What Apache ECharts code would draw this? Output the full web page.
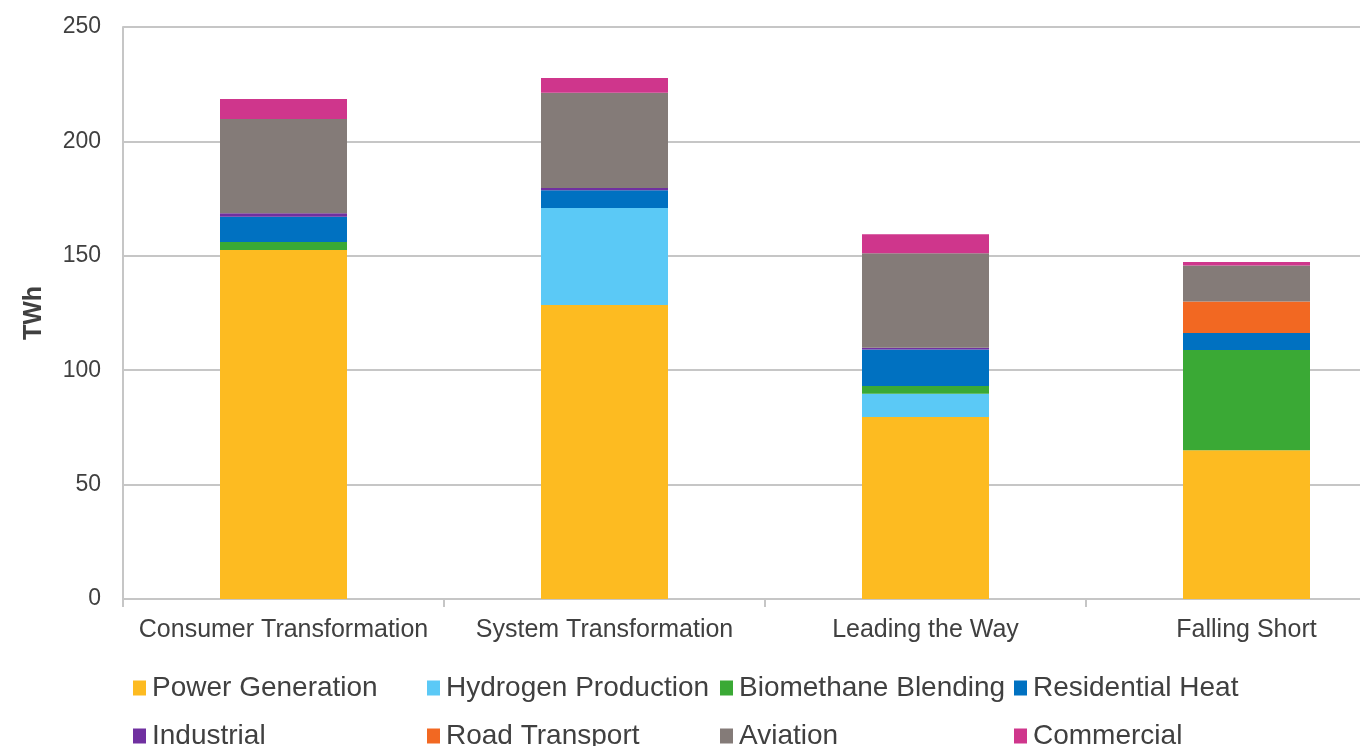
<!DOCTYPE html>
<html>
<head>
<meta charset="utf-8">
<script src="https://cdn.jsdelivr.net/npm/echarts@6/dist/echarts.min.js"></script>
<style>
html,body{margin:0;padding:0;background:#fff;overflow:hidden;width:1360px;height:746px;}
#chart{width:1407px;height:746px;}
</style>
</head>
<body>
<div id="chart"></div>
<script>
const categories = ['Consumer Transformation', 'System Transformation', 'Leading the Way', 'Falling Short'];
const seriesNames = ['Power Generation', 'Hydrogen Production', 'Biomethane Blending', 'Residential Heat', 'Industrial', 'Road Transport', 'Aviation', 'Commercial'];
const powerGeneration    = [152.5, 128.5, 79.5, 65.0];
const hydrogenProduction = [0,     42.4,  10.2, 0];
const biomethaneBlending = [3.5,   0,     3.4,  43.8];
const residentialHeat    = [11.1,  7.7,   15.9, 7.5];
const industrial         = [1.5,   1.0,   0.8,  0];
const roadTransport      = [0,     0,     0,    13.7];
const aviation           = [41.2,  41.7,  41.3, 15.8];
const commercial         = [8.7,   6.4,   8.3,  1.5];
const yTicks = [0, 50, 100, 150, 200, 250];

const values = [powerGeneration, hydrogenProduction, biomethaneBlending, residentialHeat, industrial, roadTransport, aviation, commercial];
const colors = ['#FDBB21', '#5BC9F6', '#3AA935', '#0071C1', '#7030A0', '#F26822', '#847B78', '#CF368C'];

const chart = echarts.init(document.getElementById('chart'), null, {renderer: 'canvas'});
const font = 'Liberation Sans, Arial, sans-serif';

const legendCols = [133, 427, 720, 1014];
const legendRows = [674, 722];
const legends = seriesNames.map((n, i) => ({
  data: [n],
  left: legendCols[i % 4],
  top: legendRows[Math.floor(i / 4)],
  padding: 0,
  itemWidth: 13,
  itemHeight: 15,
  itemGap: 6,
  icon: 'rect',
  selectedMode: false,
  textStyle: {fontFamily: font, fontSize: 28, color: '#404040', padding: [0, 0, 0, 1]}
}));

chart.setOption({
  animation: false,
  backgroundColor: '#ffffff',
  color: colors,
  legend: legends,
  grid: {left: 123, top: 27, bottom: 147, right: 0, containLabel: false},
  xAxis: {
    type: 'category',
    data: categories,
    axisLine: {show: true, lineStyle: {color: '#c6c6c6', width: 2}},
    axisTick: {show: true, length: 8, lineStyle: {color: '#c6c6c6', width: 2}},
    axisLabel: {interval: 0, fontFamily: font, fontSize: 25, color: '#404040', margin: 19}
  },
  yAxis: {
    type: 'value',
    min: yTicks[0],
    max: yTicks[yTicks.length - 1],
    interval: 50,
    name: 'TWh',
    nameLocation: 'middle',
    nameGap: 76,
    nameTextStyle: {fontFamily: font, fontSize: 25, fontWeight: 'bold', color: '#404040'},
    axisLine: {show: true, lineStyle: {color: '#c6c6c6', width: 2}},
    axisTick: {show: false},
    splitLine: {lineStyle: {color: '#c6c6c6', width: 2}},
    axisLabel: {fontFamily: font, fontSize: 23, color: '#404040', margin: 22}
  },
  series: seriesNames.map((n, i) => ({
    name: n,
    type: 'bar',
    stack: 'total',
    barWidth: 127,
    data: values[i],
    itemStyle: {color: colors[i]}
  }))
});
</script>
</body>
</html>
